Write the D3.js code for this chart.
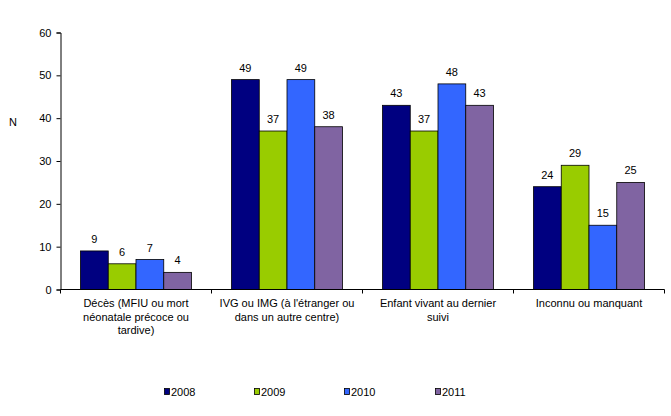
<!DOCTYPE html>
<html>
<head>
<meta charset="utf-8">
<script src="https://cdn.jsdelivr.net/npm/d3@7"></script>
<style>
  body { margin: 0; background: #fff; }
  text { font-family: "Liberation Sans", Arial, sans-serif; font-size: 11px; fill: #000; }
</style>
</head>
<body>
<svg id="chart"></svg>
<script>
const width = 671;
const height = 416;

// Data
const categories = [
  "Décès (MFIU ou mort\nnéonatale précoce ou\ntardive)",
  "IVG ou IMG (à l'étranger ou\ndans un autre centre)",
  "Enfant vivant au dernier\nsuivi",
  "Inconnu ou manquant"
];
const years = ["2008", "2009", "2010", "2011"];
const values2008 = [9, 49, 43, 24];
const values2009 = [6, 37, 37, 29];
const values2010 = [7, 49, 48, 15];
const values2011 = [4, 38, 43, 25];
const yTicks = [0, 10, 20, 30, 40, 50, 60];
const colors = ["#000080", "#99CC00", "#3366FF", "#8064A2"];

const series = [values2008, values2009, values2010, values2011];

const svg = d3.select("#chart").attr("width", width).attr("height", height);

const x0 = d3.scaleBand()
  .domain(categories)
  .range([60.5, 664.5])
  .paddingInner(0)
  .paddingOuter(0);

const x1 = d3.scaleBand()
  .domain(years)
  .range([20, x0.bandwidth() - 20]);

const y = d3.scaleLinear()
  .domain([0, 60])
  .range([289.5, 32.5]);

// Y axis
const yAxis = svg.append("g")
  .attr("transform", "translate(60.5,0)")
  .call(d3.axisLeft(y).tickValues(yTicks).tickSize(4).tickPadding(5));
yAxis.select(".domain").attr("stroke", "#000");
yAxis.selectAll(".tick line").attr("stroke", "#000");
yAxis.selectAll("text").style("font-size", "11px");

svg.append("text")
  .attr("x", 9)
  .attr("y", 126)
  .text("N");

// Bars
categories.forEach((cat, ci) => {
  const g = svg.append("g").attr("transform", `translate(${x0(cat)},0)`);
  years.forEach((yr, si) => {
    const v = series[si][ci];
    g.append("rect")
      .attr("x", x1(yr))
      .attr("y", y(v))
      .attr("width", x1.bandwidth())
      .attr("height", y(0) - y(v))
      .attr("fill", colors[si])
      .attr("stroke", "#000")
      .attr("stroke-width", 0.8);
    g.append("text")
      .attr("x", x1(yr) + x1.bandwidth() / 2)
      .attr("y", y(v) - 8)
      .attr("text-anchor", "middle")
      .text(v);
  });
});

// X axis
const xAxis = svg.append("g")
  .attr("transform", `translate(0,${y(0)})`);
xAxis.append("line")
  .attr("x1", x0.range()[0])
  .attr("x2", x0.range()[1])
  .attr("stroke", "#000");
const bounds = categories.map(c => x0(c)).concat([x0.range()[1]]);
bounds.forEach(bx => {
  xAxis.append("line")
    .attr("x1", bx).attr("x2", bx)
    .attr("y1", 0).attr("y2", 4)
    .attr("stroke", "#000");
});

categories.forEach(cat => {
  const lines = cat.split("\n");
  const t = svg.append("text")
    .attr("text-anchor", "middle")
    .attr("x", x0(cat) + x0.bandwidth() / 2)
    .attr("y", 307);
  lines.forEach((ln, i) => {
    t.append("tspan")
      .attr("x", x0(cat) + x0.bandwidth() / 2)
      .attr("dy", i === 0 ? 0 : 13.5)
      .text(ln);
  });
});

// Legend
const legendX = [164, 254, 344, 435];
years.forEach((yr, i) => {
  const lg = svg.append("g").attr("transform", `translate(${legendX[i]},388)`);
  lg.append("rect")
    .attr("x", 0.5).attr("y", 0.5)
    .attr("width", 5).attr("height", 6)
    .attr("fill", colors[i])
    .attr("stroke", "#000")
    .attr("stroke-width", 0.8);
  lg.append("text")
    .attr("x", 7)
    .attr("y", 8)
    .text(yr);
});
</script>
</body>
</html>
